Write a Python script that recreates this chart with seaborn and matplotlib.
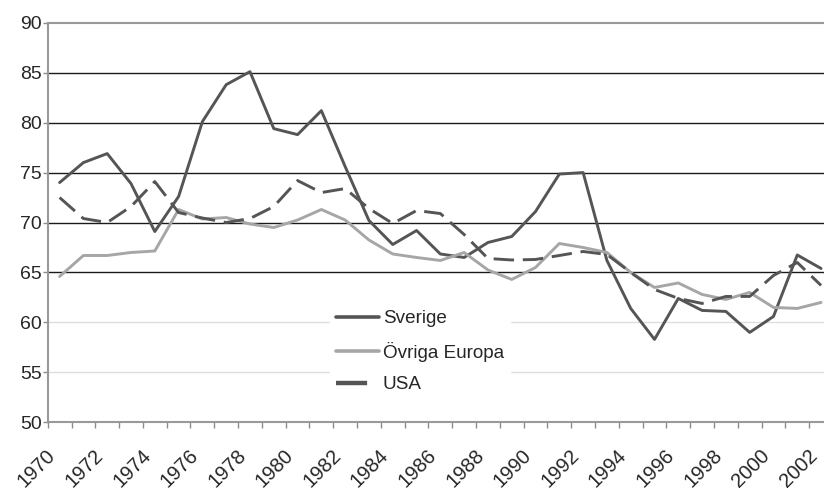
import matplotlib
matplotlib.use('Agg')
import matplotlib.pyplot as plt
import matplotlib.transforms as mtransforms
import seaborn as sns
import pandas as pd
from matplotlib.ticker import FixedLocator

years = list(range(1970, 2003))
sverige = [74.0, 76.0, 76.9, 73.9, 69.1, 72.6, 80.1, 83.8, 85.1, 79.4,
           78.8, 81.2, 75.6, 70.2, 67.8, 69.2, 66.85, 66.5, 68.0, 68.6,
           71.1, 74.85, 75.0, 66.2, 61.4, 58.3, 62.4, 61.2, 61.1, 59.0,
           60.6, 66.75, 65.4]
ovriga = [64.6, 66.7, 66.7, 67.0, 67.15, 71.3, 70.35, 70.5, 69.85, 69.5,
          70.25, 71.3, 70.25, 68.25, 66.85, 66.5, 66.2, 67.0, 65.25, 64.3,
          65.5, 67.9, 67.5, 67.0, 65.0, 63.5, 63.95, 62.8, 62.3, 63.0,
          61.5, 61.4, 62.0]
usa = [72.5, 70.4, 70.0, 71.6, 74.1, 71.0, 70.45, 70.0, 70.4, 71.6,
       74.2, 73.0, 73.4, 71.4, 69.9, 71.2, 70.9, 68.8, 66.4, 66.25,
       66.3, 66.7, 67.1, 66.8, 65.0, 63.3, 62.4, 61.9, 62.6, 62.6,
       64.7, 66.0, 63.7]
series = ['Sverige', 'Övriga Europa', 'USA']
yticks = list(range(50, 91, 5))

df = pd.DataFrame({
    'År': years * 3,
    'Värde': sverige + ovriga + usa,
    'Serie': [s for s in series for _ in years],
})

sns.set_theme(style='white')
plt.rcParams['font.family'] = ['Liberation Sans', 'DejaVu Sans']
plt.rcParams['text.color'] = '#262626'

fig = plt.figure(figsize=(8.24, 4.91), dpi=100)
# plot area runs past the right edge, as in the cropped original
ax = fig.add_axes([0.0579, 0.1399, 0.953, 0.8138])

palette = {'Sverige': '#555555', 'Övriga Europa': '#a6a6a6', 'USA': '#555555'}
dashes = {'Sverige': '', 'Övriga Europa': '', 'USA': (7, 3)}
sns.lineplot(data=df, x='År', y='Värde', hue='Serie', style='Serie',
             palette=palette, dashes=dashes, linewidth=2.1, ax=ax)

ax.set_xlim(years[0] - 0.5, years[-1] + 0.5)
ax.set_ylim(yticks[0], yticks[-1])
ax.set_xlabel('')
ax.set_ylabel('')

# y axis and gridlines
ax.set_yticks(yticks)
ax.grid(axis='y', linewidth=1.0)
for val, gl in zip(yticks, ax.get_ygridlines()):
    if val in (50, 90):
        gl.set_visible(False)
    elif val >= 65:
        gl.set_color('#1a1a1a')
    else:
        gl.set_color('#dedede')
ax.tick_params(axis='y', left=True, length=3.6, width=1.0, color='#8c8c8c',
               pad=0.5, labelsize=14, labelcolor='#262626')

# x axis: category boundaries as minor ticks, every other year labelled
ax.xaxis.set_major_locator(FixedLocator(years[::2]))
ax.xaxis.set_minor_locator(FixedLocator([y - 0.5 for y in years] + [years[-1] + 0.5]))
ax.set_xticklabels([str(y) for y in years[::2]])
ax.tick_params(axis='x', which='major', bottom=True, length=0, pad=21.5,
               labelsize=14.5, labelcolor='#262626')
ax.tick_params(axis='x', which='minor', bottom=True, length=4.3, width=1.0,
               color='#8c8c8c')
shift = mtransforms.ScaledTranslation(-7 / 100, 0, fig.dpi_scale_trans)
for lbl in ax.get_xticklabels():
    lbl.set_rotation(45)
    lbl.set_ha('right')
    lbl.set_va('center')
    lbl.set_rotation_mode('anchor')
    lbl.set_transform(lbl.get_transform() + shift)

for side in ['left', 'bottom', 'top']:
    ax.spines[side].set_color('#999999')
    ax.spines[side].set_linewidth(1.5)
ax.spines['right'].set_visible(False)

handles, labels = ax.get_legend_handles_labels()
leg = ax.legend(handles, labels, loc='center left', bbox_to_anchor=(0.3595, 0.1767),
                frameon=True, fancybox=False, framealpha=1, edgecolor='white',
                facecolor='white', fontsize=13.6, handlelength=2.3,
                handletextpad=0.2, labelspacing=0.76, borderpad=0.3,
                borderaxespad=0)
for line in leg.get_lines():
    line.set_linewidth(2.6)
leg.get_lines()[2].set_linewidth(3.2)

fig.savefig('out.png', dpi=100)
